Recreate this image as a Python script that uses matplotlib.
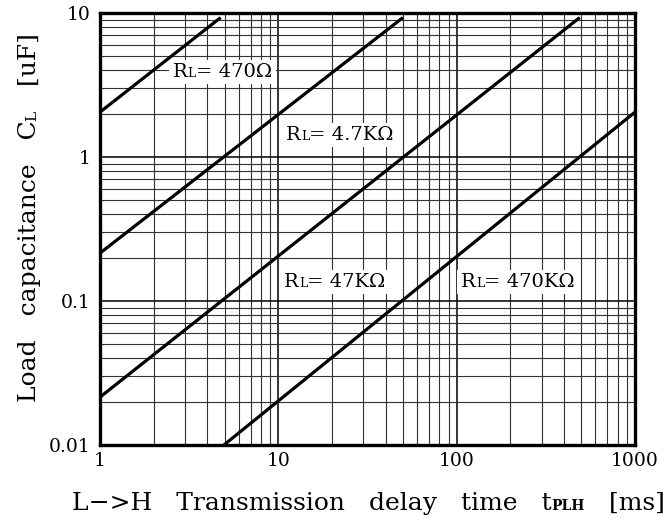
import matplotlib
matplotlib.use("Agg")
import matplotlib.pyplot as plt
from matplotlib.patches import Rectangle
from matplotlib.ticker import FixedLocator, FixedFormatter, LogLocator, NullFormatter

plt.rcParams['font.family'] = ['DejaVu Serif']

# Data: endpoints of each load-resistance line (delay ms, capacitance uF)
r470_t = [1.0, 4.75]
r470_c = [2.05, 9.3]
r4k7_t = [1.0, 50.0]
r4k7_c = [0.215, 9.3]
r47k_t = [1.0, 490.0]
r47k_c = [0.0215, 9.3]
r470k_t = [4.95, 1000.0]
r470k_c = [0.01, 2.05]

label_values = ["470Ω", "4.7KΩ", "47KΩ", "470KΩ"]
label_t = [4.86, 22.2, 20.8, 221.0]
label_c = [3.6, 1.31, 0.125, 0.125]

x_ticks = [1, 10, 100, 1000]
x_ticklabels = ["1", "10", "100", "1000"]
y_ticks = [0.01, 0.1, 1, 10]
y_ticklabels = ["0.01", "0.1", "1", "10"]

W, H = 669, 524
fig = plt.figure(figsize=(W/100, H/100), dpi=100)
ax = fig.add_axes([100/W, 1-445/H, 535/W, 432/H])
ax.set_xscale('log')
ax.set_yscale('log')
ax.set_xlim(1, 1000)
ax.set_ylim(0.01, 10)

ax.xaxis.set_major_locator(FixedLocator(x_ticks))
ax.xaxis.set_major_formatter(FixedFormatter(x_ticklabels))
ax.yaxis.set_major_locator(FixedLocator(y_ticks))
ax.yaxis.set_major_formatter(FixedFormatter(y_ticklabels))
ax.xaxis.set_minor_locator(LogLocator(base=10, subs=range(2, 10)))
ax.yaxis.set_minor_locator(LogLocator(base=10, subs=range(2, 10)))
ax.xaxis.set_minor_formatter(NullFormatter())
ax.yaxis.set_minor_formatter(NullFormatter())

ax.grid(which='major', color='black', lw=1.1)
ax.grid(which='minor', color='#333333', lw=0.8)
ax.tick_params(which='both', length=0)
ax.tick_params(axis='x', labelsize=13.5, pad=5)
ax.tick_params(axis='y', labelsize=13.5, pad=7)

for s in ax.spines.values():
    s.set_linewidth(2.4)
    s.set_zorder(5)

for t, c in [(r470_t, r470_c), (r4k7_t, r4k7_c), (r47k_t, r47k_c), (r470k_t, r470k_c)]:
    ax.plot(t, c, color='black', lw=2.3, solid_capstyle='butt', zorder=4)

renderer = fig.canvas.get_renderer()


def chain_h(parts, x, y, coords, bg=False, zorder=3):
    """Place text pieces one after another along a common baseline, centred at x."""
    texts = []
    prev = None
    for s, size, weight in parts:
        kw = dict(fontsize=size, fontweight=weight, ha='left', va='baseline',
                  zorder=zorder, annotation_clip=False)
        if prev is None:
            t = ax.annotate(s, xy=(x, y), xycoords=coords, **kw)
        else:
            t = ax.annotate(s, xy=(1, y), xycoords=(prev, coords), **kw)
        texts.append(t)
        prev = t
    fig.canvas.draw()
    x0 = texts[0].get_window_extent(renderer).x0
    x1 = texts[-1].get_window_extent(renderer).x1
    tr = ax.transData if coords == 'data' else fig.transFigure
    px, py = tr.transform((x, y))
    newx = tr.inverted().transform((px - (x1 - x0) / 2, py))[0]
    texts[0].xy = (newx, y)
    texts[0].xyann = (newx, y)
    if bg:
        fig.canvas.draw()
        bbs = [t.get_window_extent(renderer) for t in texts]
        bx0 = min(b.x0 for b in bbs) - 4
        bx1 = max(b.x1 for b in bbs) + 4
        by0 = min(b.y0 for b in bbs) - 3
        by1 = max(b.y1 for b in bbs) + 3
        inv = ax.transAxes.inverted()
        (ax0, ay0), (ax1, ay1) = inv.transform([(bx0, by0), (bx1, by1)])
        ax.add_patch(Rectangle((ax0, ay0), ax1 - ax0, ay1 - ay0, transform=ax.transAxes,
                               facecolor='white', edgecolor='none', zorder=zorder - 0.1))
    return texts


# in-plot labels
for val, t, c in zip(label_values, label_t, label_c):
    chain_h([("R", 14, 'normal'), ("L", 9, 'normal'), ("= " + val, 14, 'normal')],
            t, c, 'data', bg=True)

# x label
chain_h([("L−>H   Transmission   delay   time   t", 18, 'normal'), ("PLH", 10, 'bold'),
         ("   [ms]", 18, 'normal')], 368/W, 1-510/H, 'figure fraction')

# y label built along the vertical
ylab_parts = [("Load   capacitance   C", 18), ("L", 11), ("   [uF]", 18)]
ybase_x = 36/W
tmp = []
for s, size in ylab_parts:
    tt = fig.text(0, 0, s, fontsize=size, rotation=90, rotation_mode='anchor',
                  ha='left', va='baseline')
    tmp.append(tt)
fig.canvas.draw()
lengths = [tt.get_window_extent(renderer).height for tt in tmp]
total = sum(lengths)
ycenter = H - 218
start = ycenter - total / 2
for tt, L in zip(tmp, lengths):
    tt.set_position((ybase_x, start / H))
    start += L

fig.savefig("out.png", dpi=100)
